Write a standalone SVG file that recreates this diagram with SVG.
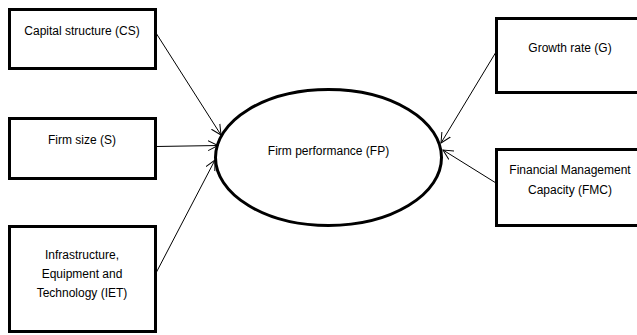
<svg xmlns="http://www.w3.org/2000/svg" width="637" height="335" viewBox="0 0 637 335">
<style>
.box{fill:#fff;stroke:#000;stroke-width:3}
.ell{fill:#fff;stroke:#000;stroke-width:3}
.lbl{font-family:"Liberation Sans",Arial,sans-serif;font-size:12px;fill:#000;text-anchor:middle}
.con{stroke:#000;stroke-width:1;fill:none;marker-end:url(#arr)}
</style>
<defs>
<marker id="arr" markerWidth="12" markerHeight="12" refX="10" refY="5" orient="auto" markerUnits="userSpaceOnUse" viewBox="0 0 12 10">
<path d="M0,0 L10,5 L0,10" fill="none" stroke="#000" stroke-width="1"/>
</marker>
</defs>
<rect width="637" height="335" fill="#fff"/>
<g id="n-cs"><rect class="box" x="9.5" y="9.5" width="146" height="59"/><text class="lbl" x="82" y="35">Capital structure (CS)</text></g>
<g id="n-s"><rect class="box" x="9.5" y="118.5" width="146" height="60"/><text class="lbl" x="82" y="144">Firm size (S)</text></g>
<g id="n-iet"><rect class="box" x="9.5" y="226.5" width="146" height="105"/><text class="lbl" x="82" y="259">Infrastructure,</text><text class="lbl" x="82" y="278">Equipment and</text><text class="lbl" x="82" y="297">Technology (IET)</text></g>
<g id="n-fp"><ellipse class="ell" cx="328.5" cy="157.5" rx="113" ry="68"/><text class="lbl" x="328.5" y="155">Firm performance (FP)</text></g>
<g id="n-g"><rect class="box" x="496.5" y="18.5" width="150" height="74"/><text class="lbl" x="570" y="52">Growth rate (G)</text></g>
<g id="n-fmc"><rect class="box" x="496.5" y="149.5" width="150" height="76"/><text class="lbl" x="570" y="174">Financial Management</text><text class="lbl" x="570" y="194">Capacity (FMC)</text></g>
<g id="connectors">
<line class="con" x1="156" y1="33" x2="221" y2="135"/>
<line class="con" x1="156" y1="146.5" x2="218" y2="145.5"/>
<line class="con" x1="156" y1="273" x2="215" y2="160"/>
<line class="con" x1="496" y1="52" x2="441" y2="143"/>
<line class="con" x1="496" y1="183" x2="443" y2="150"/>
</g>
</svg>
